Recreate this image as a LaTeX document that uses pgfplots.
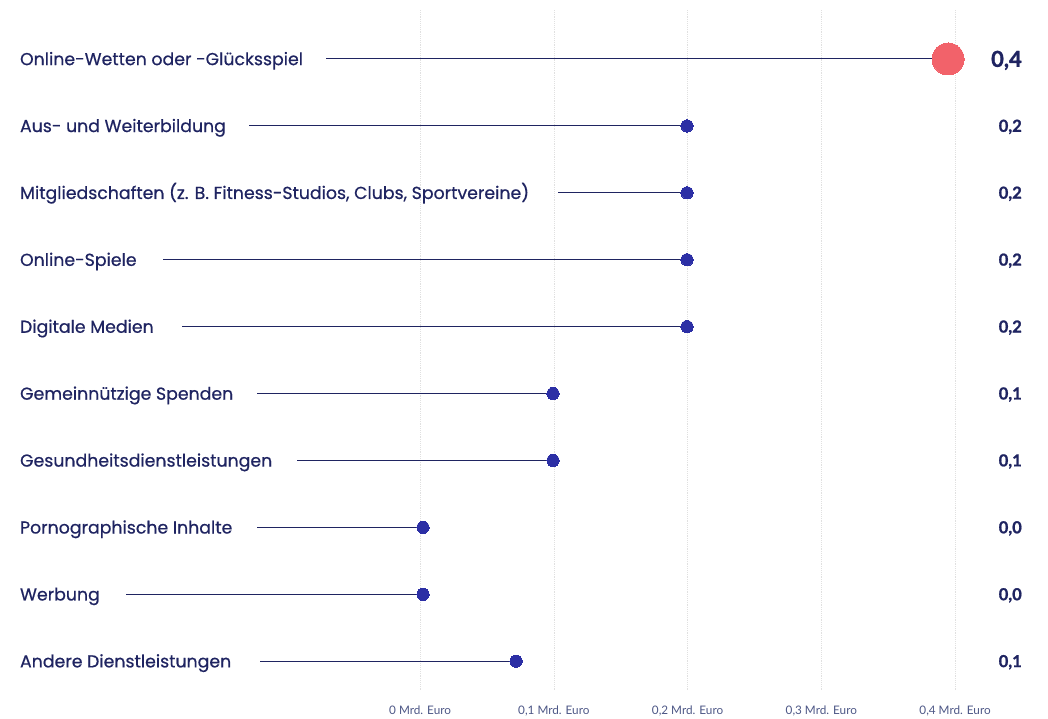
\documentclass[border=0pt]{standalone}
\usepackage{pgfplots}
\pgfplotsset{compat=1.18}
\usepackage{pgfplotstable}
\usepackage{fontspec}
\setmainfont[FakeBold=0.6]{Poppins}
\newfontfamily\labfont[FakeBold=0.6]{Poppins}
\newfontfamily\valfont{Lato}
\newfontfamily\numfont[FakeBold=1.2]{Lato Bold}
\definecolor{navy}{HTML}{1F2461}
\definecolor{dotblue}{HTML}{2C2FA5}
\definecolor{dotred}{HTML}{F2626A}
\definecolor{ticktext}{HTML}{4D5786}
\pgfplotstableread{
r v
1 0.1996
2 0.1996
3 0.1996
4 0.1996
5 0.0994
6 0.0994
7 0.0022
8 0.0022
9 0.0718
}\bluedots
\pgfplotstableread{
r v
0 0.3948
}\reddot
\begin{document}
\begin{tikzpicture}[x=1pt,y=1pt]
\path[use as bounding box] (0,-21) rectangle (786,517.5);
\begin{axis}[at={(0,0)}, anchor=south west, scale only axis,
  width=786pt, height=510pt,
  xmin=-0.3141, xmax=0.4695, ymin=-0.732, ymax=9.43, y dir=reverse,
  axis line style={draw=none}, tick style={draw=none},
  ytick=\empty,
  xtick={0,0.1,0.2,0.3,0.4},
  xticklabels={0 Mrd. Euro,{0,1 Mrd. Euro},{0,2 Mrd. Euro},{0,3 Mrd. Euro},{0,4 Mrd. Euro}},
  xticklabel style={font=\valfont\fontsize{8.8}{10}\selectfont, text=ticktext, yshift=-8pt},
  xmajorgrids, grid style={densely dotted, line width=0.5pt, color=black!12},
  clip=false]
% stems
\addplot[navy, line width=0.75pt] coordinates {(-0.0703,0) (0.3948,0)};
\addplot[navy, line width=0.75pt] coordinates {(-0.1279,1) (0.1996,1)};
\addplot[navy, line width=0.75pt] coordinates {(0.1032,2) (0.1996,2)};
\addplot[navy, line width=0.75pt] coordinates {(-0.1921,3) (0.1996,3)};
\addplot[navy, line width=0.75pt] coordinates {(-0.1779,4) (0.1996,4)};
\addplot[navy, line width=0.75pt] coordinates {(-0.1219,5) (0.0994,5)};
\addplot[navy, line width=0.75pt] coordinates {(-0.0920,6) (0.0994,6)};
\addplot[navy, line width=0.75pt] coordinates {(-0.1219,7) (0.0022,7)};
\addplot[navy, line width=0.75pt] coordinates {(-0.2198,8) (0.0022,8)};
\addplot[navy, line width=0.75pt] coordinates {(-0.1196,9) (0.0718,9)};
% dots
\addplot[only marks, color=dotblue, mark=*, mark size=4.6pt, mark options={fill=dotblue, draw=dotblue, line width=0pt}] table[x=v,y=r] {\bluedots};
\addplot[only marks, color=dotred, mark=*, mark size=12pt, mark options={fill=dotred, draw=dotred, line width=0pt}] table[x=v,y=r] {\reddot};
% category labels
\begin{scope}[every node/.style={anchor=base west, inner sep=0pt, text=navy, font=\labfont\fontsize{13.0}{15}\selectfont, yshift=-4.6pt}]
\node at (axis cs:-0.2993,0) {Online-Wetten oder -Glücksspiel};
\node at (axis cs:-0.2993,1) {Aus- und Weiterbildung};
\node at (axis cs:-0.2993,2) {Mitgliedschaften (z. B. Fitness-Studios, Clubs, Sportvereine)};
\node at (axis cs:-0.2993,3) {Online-Spiele};
\node at (axis cs:-0.2993,4) {Digitale Medien};
\node at (axis cs:-0.2993,5) {Gemeinnützige Spenden};
\node at (axis cs:-0.2993,6) {Gesundheitsdienstleistungen};
\node at (axis cs:-0.2993,7) {Pornographische Inhalte};
\node at (axis cs:-0.2993,8) {Werbung};
\node at (axis cs:-0.2993,9) {Andere Dienstleistungen};
\end{scope}
% value labels
\begin{scope}[every node/.style={anchor=base east, inner sep=0pt, text=navy, font=\numfont\fontsize{12.4}{14}\selectfont, yshift=-4.4pt}]
\node[font=\numfont\fontsize{16.5}{18}\selectfont, yshift=-1.5pt] at (axis cs:0.4501,0) {0,4};
\node at (axis cs:0.4501,1) {0,2};
\node at (axis cs:0.4501,2) {0,2};
\node at (axis cs:0.4501,3) {0,2};
\node at (axis cs:0.4501,4) {0,2};
\node at (axis cs:0.4501,5) {0,1};
\node at (axis cs:0.4501,6) {0,1};
\node at (axis cs:0.4501,7) {0,0};
\node at (axis cs:0.4501,8) {0,0};
\node at (axis cs:0.4501,9) {0,1};
\end{scope}
\end{axis}
\end{tikzpicture}
\end{document}
